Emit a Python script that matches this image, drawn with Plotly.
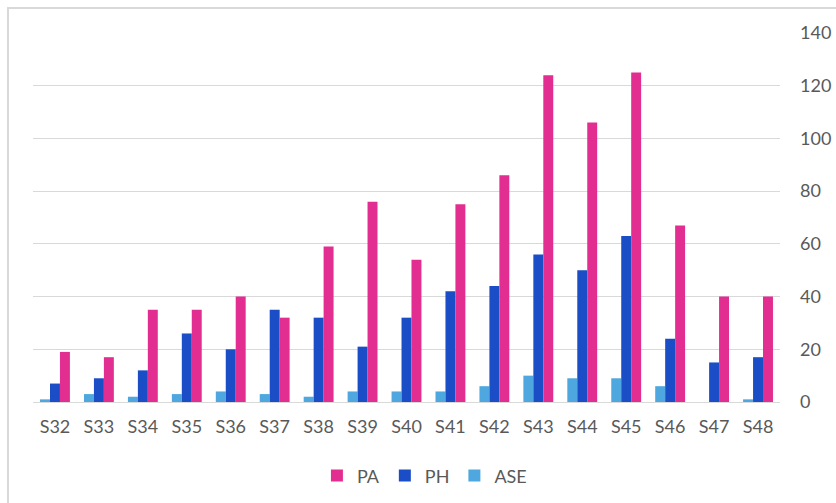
import plotly.graph_objects as go

# Weekly counts per category
weeks = ["S32", "S33", "S34", "S35", "S36", "S37", "S38", "S39", "S40",
         "S41", "S42", "S43", "S44", "S45", "S46", "S47", "S48"]
pa = [19, 17, 35, 35, 40, 32, 59, 76, 54, 75, 86, 124, 106, 125, 67, 40, 40]
ph = [7, 9, 12, 26, 20, 35, 32, 21, 32, 42, 44, 56, 50, 63, 24, 15, 17]
ase = [1, 3, 2, 3, 4, 3, 2, 4, 4, 4, 6, 10, 9, 9, 6, 0, 1]

y_ticks = [0, 20, 40, 60, 80, 100, 120, 140]

FONT = "Lato, 'Open Sans', sans-serif"
GREY_TEXT = "#595959"
GRID = "#D9D9D9"

fig = go.Figure()
# Bars drawn left to right: ASE, PH, PA
fig.add_trace(go.Bar(x=weeks, y=ase, name="ASE", marker=dict(color="#4EA7DE", line=dict(width=0))))
fig.add_trace(go.Bar(x=weeks, y=ph, name="PH", marker=dict(color="#1B4DC7", line=dict(width=0))))
fig.add_trace(go.Bar(x=weeks, y=pa, name="PA", marker=dict(color="#E32E91", line=dict(width=0))))

fig.update_layout(
    width=836,
    height=503,
    margin=dict(l=33, r=56, t=33, b=101, autoexpand=False),
    paper_bgcolor="white",
    plot_bgcolor="white",
    barmode="group",
    bargap=0.32,
    bargroupgap=0,
    font=dict(family=FONT, size=18, color=GREY_TEXT),
    showlegend=True,
    legend=dict(
        orientation="h",
        traceorder="reversed",
        x=0.524,
        xanchor="center",
        y=-0.15,
        yanchor="top",
        font=dict(family=FONT, size=18, color=GREY_TEXT),
        itemwidth=30,
        itemclick=False,
    ),
    xaxis=dict(
        automargin=False,
        showgrid=False,
        showline=True,
        linecolor=GRID,
        linewidth=1,
        ticks="",
        tickfont=dict(family=FONT, size=18, color=GREY_TEXT),
        ticklabelstandoff=8,
    ),
    yaxis=dict(
        automargin=False,
        side="right",
        range=[0, 140],
        tickvals=y_ticks,
        showgrid=True,
        gridcolor=GRID,
        gridwidth=1,
        zeroline=False,
        showline=False,
        ticks="",
        ticklabelstandoff=19,
        tickfont=dict(family=FONT, size=18, color=GREY_TEXT),
    ),
    shapes=[
        dict(
            type="rect",
            xref="paper",
            yref="paper",
            x0=-0.0335,
            x1=1.2,
            y0=-0.5,
            y1=1.0678,
            line=dict(color="#D9D9D9", width=2),
            fillcolor="rgba(0,0,0,0)",
            layer="below",
        )
    ],
)

fig.write_html("out.html")
